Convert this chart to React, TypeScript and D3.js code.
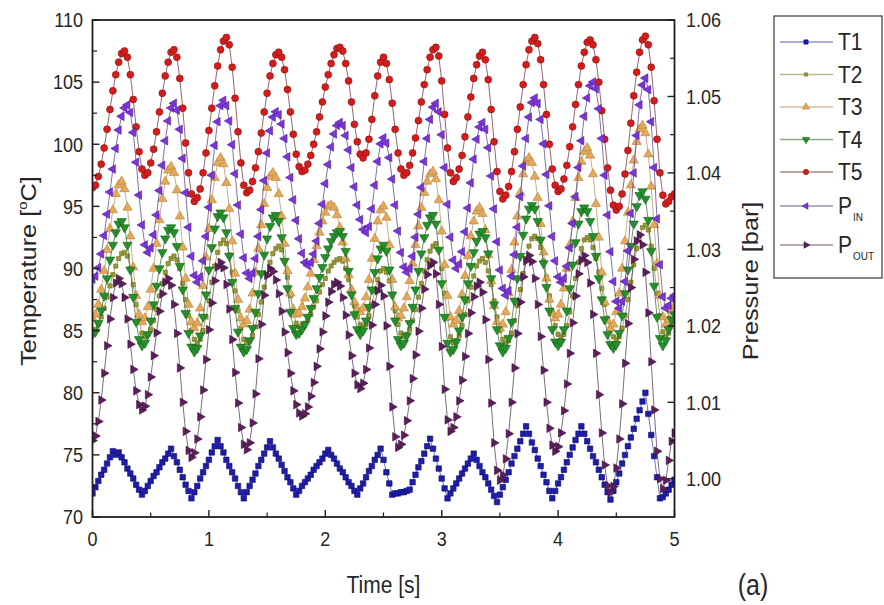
import React from "react";
import * as d3 from "d3";

// Sampling interval of the logged signals [s]
const TIME_STEP = 0.025;

const X_TICKS = [0, 1, 2, 3, 4, 5];
const T_TICKS = [70, 75, 80, 85, 90, 95, 100, 105, 110];
const P_TICKS = [1.0, 1.01, 1.02, 1.03, 1.04, 1.05, 1.06];

// Temperatures [°C]
const T1 = [
  71.9, 72.4, 72.9, 73.4, 73.8, 74.3, 74.8, 75.3, 75.0, 75.2, 74.8,
  74.4, 73.9, 73.5, 73.1, 72.6, 72.2, 71.8, 72.1, 72.5, 72.9,
  73.3, 73.6, 74.0, 74.4, 74.7, 75.1, 75.5, 74.9, 74.4, 73.8,
  73.2, 72.6, 72.1, 71.5, 72.0, 72.5, 73.1, 73.6, 74.1, 74.6,
  75.2, 75.7, 76.2, 75.7, 75.2, 74.6, 74.1, 73.6, 73.1, 72.5,
  72.0, 71.5, 72.0, 72.5, 73.0, 73.5, 74.1, 74.6, 75.1, 75.6,
  76.1, 75.6, 75.1, 74.7, 74.2, 73.7, 73.2, 72.8, 72.3, 71.8,
  72.1, 72.5, 72.8, 73.1, 73.4, 73.8, 74.1, 74.4, 74.7, 75.1,
  75.4, 75.0, 74.7, 74.3, 73.9, 73.6, 73.2, 72.8, 72.5, 72.1,
  71.8, 72.3, 72.7, 73.2, 73.7, 74.1, 74.6, 75.0, 75.5, 74.6,
  73.6, 72.7, 71.8, 71.9, 71.9, 72.0, 72.0, 72.1, 72.2, 72.8,
  73.4, 74.0, 74.5, 75.1, 75.7, 76.3, 75.5, 74.7, 73.9, 73.1,
  72.3, 71.5, 71.9, 72.3, 72.7, 73.1, 73.5, 73.9, 74.3, 74.7,
  75.1, 74.6, 74.1, 73.6, 73.2, 72.7, 72.2, 71.7, 71.2, 71.8,
  72.4, 73.0, 73.6, 74.3, 74.9, 75.5, 76.1, 76.7, 77.3, 76.7,
  76.0, 75.4, 74.7, 74.1, 73.4, 72.8, 72.1, 71.5, 72.1, 72.7,
  73.2, 73.8, 74.4, 75.0, 75.6, 76.2, 76.7, 77.3, 76.7, 76.1,
  75.5, 74.9, 74.4, 73.8, 73.2, 72.6, 72.0, 71.4, 72.1, 72.8,
  73.5, 74.3, 75.0, 75.7, 76.4, 77.1, 77.9, 78.6, 79.3, 80.0,
  78.3, 76.6, 74.9, 73.2, 71.5, 71.6, 71.9, 72.2, 72.6, 73.0,
];

const T2 = [
  85.0, 85.1, 85.5, 86.1, 86.8, 87.7, 88.6, 89.5, 90.2, 90.8, 91.2,
  91.3, 91.0, 90.0, 88.7, 87.1, 85.8, 84.8, 84.5, 84.7, 85.1,
  85.8, 86.7, 87.8, 88.8, 89.7, 90.4, 90.8, 91.0, 90.7, 90.0,
  88.8, 87.5, 86.2, 85.0, 84.3, 84.0, 84.3, 85.0, 86.1, 87.4,
  88.9, 90.2, 91.3, 92.0, 92.3, 92.0, 91.1, 89.7, 88.2, 86.6,
  85.2, 84.3, 84.0, 84.2, 84.6, 85.3, 86.3, 87.3, 88.5, 89.5,
  90.5, 91.2, 91.6, 91.8, 91.5, 90.6, 89.3, 87.8, 86.5, 85.6,
  85.3, 85.4, 85.6, 85.9, 86.3, 86.9, 87.4, 88.1, 88.7, 89.2,
  89.8, 90.2, 90.5, 90.7, 90.8, 90.6, 90.0, 89.1, 88.1, 87.0,
  86.1, 85.5, 85.3, 85.5, 86.2, 87.1, 88.2, 89.1, 89.8, 90.0,
  89.7, 89.0, 87.9, 86.6, 85.5, 84.8, 84.5, 84.7, 85.1, 85.8,
  86.7, 87.7, 88.8, 89.8, 90.7, 91.4, 91.8, 92.0, 91.5, 90.0,
  88.0, 86.0, 84.5, 84.0, 84.2, 84.6, 85.4, 86.3, 87.4, 88.5,
  89.4, 90.2, 90.6, 90.8, 90.5, 89.8, 88.7, 87.4, 86.1, 85.0,
  84.3, 84.0, 84.2, 84.8, 85.8, 87.0, 88.3, 89.6, 90.8, 91.8,
  92.4, 92.6, 92.4, 91.7, 90.6, 89.3, 87.8, 86.5, 85.4, 84.7,
  84.5, 84.7, 85.4, 86.5, 87.8, 89.2, 90.5, 91.6, 92.3, 92.5,
  92.3, 91.7, 90.8, 89.7, 88.4, 87.1, 86.0, 85.1, 84.5, 84.3,
  84.5, 85.2, 86.2, 87.5, 88.9, 90.3, 91.6, 92.6, 93.3, 93.5,
  93.1, 91.8, 90.0, 88.0, 86.2, 84.9, 84.5, 84.8, 85.5, 85.8,
];

const T3 = [
  86.0, 86.3, 87.1, 88.3, 89.8, 91.5, 93.2, 94.7, 96.0, 96.7, 97.0,
  96.4, 94.9, 92.6, 90.1, 87.8, 86.3, 85.7, 86.0, 86.9, 88.3,
  90.0, 92.0, 93.9, 95.6, 97.0, 97.9, 98.2, 97.7, 96.3, 94.2,
  91.7, 89.2, 87.1, 85.7, 85.2, 85.6, 86.8, 88.6, 90.9, 93.2,
  95.5, 97.3, 98.5, 98.9, 98.4, 96.9, 94.8, 92.2, 89.6, 87.5,
  86.0, 85.5, 85.8, 86.7, 88.0, 89.7, 91.6, 93.5, 95.2, 96.5,
  97.4, 97.7, 97.3, 96.0, 94.2, 92.0, 89.8, 88.0, 86.7, 86.3,
  86.4, 86.9, 87.6, 88.5, 89.6, 90.7, 91.8, 92.9, 93.8, 94.5,
  95.0, 95.1, 94.9, 94.3, 93.3, 92.1, 90.8, 89.5, 88.3, 87.3,
  86.7, 86.5, 86.8, 87.7, 89.1, 90.8, 92.4, 93.8, 94.7, 95.0,
  94.1, 91.9, 89.1, 86.9, 86.0, 86.2, 86.8, 87.7, 89.0, 90.4,
  91.9, 93.4, 94.9, 96.1, 97.0, 97.6, 97.8, 97.2, 95.5, 93.0,
  90.3, 87.8, 86.1, 85.5, 85.8, 86.6, 87.9, 89.4, 91.0, 92.6,
  93.8, 94.6, 94.9, 94.4, 93.1, 91.1, 89.0, 87.0, 85.7, 85.2,
  85.5, 86.5, 88.0, 89.9, 92.1, 94.2, 96.1, 97.6, 98.6, 98.9,
  98.5, 97.4, 95.7, 93.6, 91.3, 89.2, 87.5, 86.4, 86.0, 86.3,
  87.1, 88.4, 90.0, 91.9, 93.8, 95.7, 97.3, 98.6, 99.4, 99.7,
  99.1, 97.6, 95.2, 92.5, 89.7, 87.3, 85.8, 85.2, 85.5, 86.5,
  88.0, 90.0, 92.2, 94.5, 96.7, 98.7, 100.2, 101.2, 101.5, 100.9,
  99.2, 96.6, 93.5, 90.4, 87.8, 86.1, 85.5, 85.9, 86.6, 87.0,
];

const T4 = [
  84.7, 84.9, 85.6, 86.6, 87.8, 89.2, 90.7, 91.9, 92.9, 93.6, 93.8,
  93.3, 91.9, 89.9, 87.7, 85.7, 84.3, 83.8, 84.0, 84.7, 85.8,
  87.1, 88.6, 90.0, 91.3, 92.4, 93.1, 93.3, 92.9, 91.8, 90.2,
  88.3, 86.4, 84.8, 83.7, 83.3, 83.6, 84.6, 86.1, 87.9, 89.9,
  91.7, 93.2, 94.2, 94.5, 94.1, 92.9, 91.0, 88.9, 86.8, 84.9,
  83.7, 83.3, 83.5, 84.2, 85.2, 86.5, 88.0, 89.6, 91.1, 92.4,
  93.4, 94.1, 94.3, 93.8, 92.5, 90.6, 88.4, 86.5, 85.2, 84.7,
  84.8, 85.1, 85.5, 86.1, 86.8, 87.6, 88.4, 89.3, 90.1, 90.9,
  91.6, 92.2, 92.6, 92.9, 93.0, 92.6, 91.4, 89.8, 87.9, 86.3,
  85.1, 84.7, 85.0, 85.8, 86.9, 88.3, 89.7, 90.8, 91.6, 91.9,
  91.4, 89.9, 87.9, 85.8, 84.3, 83.8, 84.0, 84.6, 85.6, 86.9,
  88.3, 89.8, 91.2, 92.5, 93.5, 94.1, 94.3, 93.6, 91.5, 88.8,
  86.1, 84.0, 83.3, 83.5, 84.1, 85.0, 86.1, 87.5, 88.8, 90.2,
  91.3, 92.2, 92.8, 93.0, 92.5, 91.2, 89.2, 87.1, 85.1, 83.8,
  83.3, 83.6, 84.4, 85.7, 87.4, 89.2, 91.0, 92.7, 94.0, 94.8,
  95.1, 94.8, 93.8, 92.3, 90.4, 88.5, 86.6, 85.1, 84.1, 83.8,
  84.1, 85.1, 86.6, 88.4, 90.3, 92.1, 93.6, 94.6, 94.9, 94.6,
  93.8, 92.6, 91.0, 89.2, 87.5, 85.9, 84.7, 83.9, 83.6, 83.9,
  84.8, 86.2, 88.0, 89.9, 91.8, 93.6, 95.0, 95.9, 96.2, 95.6,
  93.9, 91.4, 88.6, 86.1, 84.4, 83.8, 84.2, 85.1, 85.9, 86.3,
];

const T5 = [
  96.5, 96.7, 97.4, 98.4, 99.7, 101.2, 102.8, 104.3, 105.6, 106.6, 107.3,
  107.5, 107.0, 105.6, 103.6, 101.4, 99.4, 98.0, 97.5, 97.7, 98.5,
  99.6, 101.0, 102.6, 104.1, 105.5, 106.6, 107.4, 107.6, 107.0, 105.3,
  102.9, 100.1, 97.7, 96.0, 95.4, 95.7, 96.4, 97.7, 99.3, 101.1,
  102.9, 104.7, 106.3, 107.6, 108.3, 108.6, 108.0, 106.2, 103.7, 101.0,
  98.5, 96.7, 96.1, 96.3, 97.0, 98.1, 99.4, 100.9, 102.6, 104.1,
  105.5, 106.5, 107.2, 107.4, 107.0, 106.0, 104.4, 102.6, 100.8, 99.2,
  98.2, 97.8, 97.9, 98.4, 99.1, 100.0, 101.0, 102.2, 103.4, 104.6,
  105.6, 106.5, 107.2, 107.7, 107.8, 107.5, 106.5, 105.1, 103.4, 101.6,
  100.2, 99.2, 98.9, 99.3, 100.4, 102.0, 103.9, 105.5, 106.6, 107.0,
  106.5, 105.2, 103.3, 101.2, 99.3, 98.0, 97.5, 97.7, 98.3, 99.3,
  100.5, 101.9, 103.4, 104.8, 106.0, 107.0, 107.6, 107.8, 107.1, 105.1,
  102.4, 99.7, 97.7, 97.0, 97.3, 98.0, 99.1, 100.6, 102.2, 103.8,
  105.3, 106.4, 107.1, 107.4, 106.8, 105.2, 102.8, 100.2, 97.8, 96.2,
  95.6, 95.9, 96.6, 97.8, 99.4, 101.2, 103.0, 104.8, 106.4, 107.6,
  108.3, 108.6, 108.1, 106.8, 104.8, 102.4, 100.0, 98.0, 96.7, 96.2,
  96.4, 97.2, 98.3, 99.8, 101.4, 103.2, 104.8, 106.3, 107.4, 108.2,
  108.4, 108.0, 106.8, 105.0, 102.7, 100.4, 98.1, 96.3, 95.1, 94.7,
  95.0, 96.0, 97.6, 99.5, 101.7, 103.9, 105.8, 107.4, 108.4, 108.7,
  108.0, 106.2, 103.5, 100.4, 97.7, 95.9, 95.2, 95.4, 95.8, 96.0,
];

// Pressures [bar]
const P_IN = [
  1.0261, 1.0265, 1.0276, 1.0294, 1.0318, 1.0346, 1.0375, 1.0405, 1.0432, 1.0456, 1.0474,
  1.0485, 1.0489, 1.0479, 1.0453, 1.0414, 1.0371, 1.0332, 1.0306, 1.0296, 1.0302,
  1.0319, 1.0345, 1.0377, 1.041, 1.0442, 1.0468, 1.0485, 1.0491, 1.0482, 1.0457,
  1.0419, 1.0374, 1.0329, 1.0291, 1.0266, 1.0257, 1.0264, 1.0285, 1.0317, 1.0355,
  1.0397, 1.0436, 1.0467, 1.0488, 1.0495, 1.0488, 1.0468, 1.0437, 1.0399, 1.0358,
  1.032, 1.0289, 1.0269, 1.0262, 1.0269, 1.0288, 1.0317, 1.0352, 1.039, 1.0426,
  1.0455, 1.0473, 1.048, 1.0476, 1.0464, 1.0445, 1.0421, 1.0394, 1.0365, 1.0338,
  1.0314, 1.0295, 1.0283, 1.0279, 1.0283, 1.0294, 1.0311, 1.0334, 1.0359, 1.0386,
  1.0411, 1.0434, 1.0451, 1.0462, 1.0466, 1.0462, 1.0449, 1.043, 1.0407, 1.0382,
  1.0358, 1.0339, 1.0326, 1.0322, 1.033, 1.0353, 1.0384, 1.0415, 1.0438, 1.0446,
  1.0439, 1.042, 1.0392, 1.0358, 1.0324, 1.0296, 1.0277, 1.027, 1.0275, 1.0291,
  1.0316, 1.0346, 1.0381, 1.0415, 1.0445, 1.047, 1.0486, 1.0491, 1.048, 1.045,
  1.0407, 1.0359, 1.0316, 1.0286, 1.0275, 1.0281, 1.0297, 1.0323, 1.0354, 1.0387,
  1.0418, 1.0444, 1.046, 1.0466, 1.0457, 1.0433, 1.0396, 1.0353, 1.031, 1.0273,
  1.0249, 1.024, 1.0246, 1.0265, 1.0293, 1.0329, 1.0369, 1.0409, 1.0445, 1.0473,
  1.0492, 1.0498, 1.0491, 1.047, 1.0438, 1.0398, 1.0357, 1.0317, 1.0285, 1.0264,
  1.0257, 1.0262, 1.0278, 1.0302, 1.0334, 1.0369, 1.0407, 1.0442, 1.0474, 1.0498,
  1.0514, 1.0519, 1.051, 1.0484, 1.0445, 1.0397, 1.0345, 1.0297, 1.0258, 1.0232,
  1.0223, 1.0232, 1.0258, 1.0298, 1.0347, 1.04, 1.0449, 1.0489, 1.0515, 1.0524,
  1.0509, 1.0467, 1.0407, 1.034, 1.028, 1.0238, 1.0223, 1.0227, 1.0236, 1.024,
];

const P_OUT = [
  1.005, 1.0056, 1.0075, 1.0103, 1.0138, 1.0174, 1.0209, 1.0237, 1.0256, 1.0262, 1.0255,
  1.0237, 1.0209, 1.0176, 1.0143, 1.0115, 1.0097, 1.009, 1.0095, 1.011, 1.0133,
  1.0161, 1.0191, 1.0219, 1.0242, 1.0257, 1.0262, 1.0253, 1.0228, 1.019, 1.0145,
  1.01, 1.0062, 1.0037, 1.0028, 1.0034, 1.0052, 1.0081, 1.0116, 1.0156, 1.0195,
  1.023, 1.0259, 1.0277, 1.0283, 1.0276, 1.0254, 1.0222, 1.0182, 1.0139, 1.0099,
  1.0067, 1.0045, 1.0038, 1.0047, 1.0073, 1.0111, 1.0157, 1.0202, 1.024, 1.0266,
  1.0275, 1.0271, 1.026, 1.0242, 1.0219, 1.0192, 1.0165, 1.0138, 1.0115, 1.0097,
  1.0086, 1.0082, 1.0085, 1.0094, 1.0108, 1.0126, 1.0147, 1.017, 1.0192, 1.0213,
  1.0231, 1.0245, 1.0254, 1.0257, 1.0252, 1.0237, 1.0214, 1.0188, 1.0161, 1.0138,
  1.0123, 1.0118, 1.0125, 1.0143, 1.0171, 1.0201, 1.0228, 1.0246, 1.0253, 1.0239,
  1.02, 1.0147, 1.0094, 1.0055, 1.0041, 1.0045, 1.0057, 1.0076, 1.0102, 1.0131,
  1.0162, 1.0193, 1.0223, 1.0248, 1.0267, 1.0279, 1.0283, 1.0268, 1.0228, 1.0173,
  1.0117, 1.0077, 1.0062, 1.0067, 1.0081, 1.0102, 1.0129, 1.016, 1.019, 1.0217,
  1.0238, 1.0252, 1.0257, 1.0244, 1.0208, 1.0156, 1.0099, 1.0047, 1.0011, 0.9998,
  1.0005, 1.0026, 1.0059, 1.01, 1.0145, 1.019, 1.0231, 1.0264, 1.0285, 1.0292,
  1.0284, 1.0262, 1.0228, 1.0186, 1.0142, 1.01, 1.0066, 1.0044, 1.0036, 1.0042,
  1.006, 1.0089, 1.0124, 1.0164, 1.0204, 1.0239, 1.0268, 1.0286, 1.0292, 1.0283,
  1.0256, 1.0215, 1.0164, 1.011, 1.006, 1.0018, 0.9991, 0.9982, 0.999, 1.0014,
  1.0052, 1.0098, 1.0151, 1.0203, 1.025, 1.0287, 1.0311, 1.0319, 1.0306, 1.027,
  1.0217, 1.0153, 1.009, 1.0036, 1.0, 0.9987, 0.9998, 1.0024, 1.0049, 1.006,
];

type Series = {
  key: string;
  label: string;
  sub?: string;
  values: number[];
  axis: "T" | "P";
  fill: string;
  stroke: string;
  line: string;
  symbol: d3.SymbolType;
  size: number;
  rotate: number;
};

const SERIES: Series[] = [
  { key: "T1", label: "T1", values: T1, axis: "T", fill: "#1e1eaa", stroke: "#0c0c70", line: "#4a4a9c", symbol: d3.symbolSquare, size: 30, rotate: 0 },
  { key: "T2", label: "T2", values: T2, axis: "T", fill: "#9a9a34", stroke: "#6c6c1c", line: "#8c8c4c", symbol: d3.symbolSquare, size: 18, rotate: 0 },
  { key: "T3", label: "T3", values: T3, axis: "T", fill: "#e3a95a", stroke: "#b88236", line: "#b89464", symbol: d3.symbolTriangle, size: 38, rotate: 0 },
  { key: "T4", label: "T4", values: T4, axis: "T", fill: "#23902a", stroke: "#146018", line: "#3c6e3c", symbol: d3.symbolTriangle, size: 38, rotate: 180 },
  { key: "T5", label: "T5", values: T5, axis: "T", fill: "#d41c1c", stroke: "#8a1212", line: "#7a3434", symbol: d3.symbolCircle, size: 38, rotate: 0 },
  { key: "PIN", label: "P", sub: "IN", values: P_IN, axis: "P", fill: "#7c34d8", stroke: "#4e1c96", line: "#5c4488", symbol: d3.symbolTriangle, size: 32, rotate: -90 },
  { key: "POUT", label: "P", sub: "OUT", values: P_OUT, axis: "P", fill: "#5c1f5c", stroke: "#3a0f3a", line: "#5a3a58", symbol: d3.symbolTriangle, size: 32, rotate: 90 },
];

const W = 884;
const H = 605;
const X0 = 92.5;
const X1 = 674.5;
const Y0 = 20;
const Y1 = 517;
const FONT = "'Liberation Sans', Arial, Helvetica, sans-serif";
const INK = "#262626";
const STRETCH = 1.15;

const x = d3.scaleLinear().domain([0, 5]).range([X0, X1]);
const yT = d3.scaleLinear().domain([70, 110]).range([Y1, Y0]);
const yP = d3.scaleLinear().domain([0.995, 1.06]).range([Y1, Y0]);

function Txt(props: {
  x: number;
  y: number;
  size: number;
  anchor?: "start" | "middle" | "end";
  children: React.ReactNode;
}) {
  const { x: tx, y: ty, size, anchor = "start", children } = props;
  return (
    <text
      transform={`translate(${tx},${ty}) scale(1,${STRETCH})`}
      textAnchor={anchor}
      dy="0.35em"
      fontSize={size}
      fontFamily={FONT}
      fill={INK}
    >
      {children}
    </text>
  );
}

export default function App() {
  const legendRows = [42, 74.5, 107, 139.5, 172, 206, 245];

  const xMinor = d3.range(0.5, 5, 1);
  const tMinor = d3.range(72.5, 110, 5);
  const pMinor = d3.range(0, 6).map((k) => 1.005 + k * 0.01);

  return (
    <svg
      width={W}
      height={H}
      viewBox={`0 0 ${W} ${H}`}
      style={{ position: "absolute", left: 0, top: 0, background: "#ffffff" }}
    >
      <rect x={0} y={0} width={W} height={H} fill="#ffffff" />

      <defs>
        <clipPath id="plot-area">
          <rect x={X0} y={Y0 - 4} width={X1 - X0} height={Y1 - Y0 + 8} />
        </clipPath>
      </defs>

      {/* series: thin connecting lines, then markers */}
      <g clipPath="url(#plot-area)">
        {SERIES.map((s) => {
          const yScale = s.axis === "T" ? yT : yP;
          const line = d3
            .line<number>()
            .x((_, i) => x(i * TIME_STEP))
            .y((v) => yScale(v));
          const sym = d3.symbol().type(s.symbol).size(s.size)() || "";
          return (
            <g key={s.key}>
              <path d={line(s.values) || ""} fill="none" stroke={s.line} strokeWidth={0.9} strokeOpacity={0.85} />
              {s.values.map((v, i) => (
                <path
                  key={i}
                  d={sym}
                  transform={`translate(${x(i * TIME_STEP)},${yScale(v)}) rotate(${s.rotate})`}
                  fill={s.fill}
                  stroke={s.stroke}
                  strokeWidth={0.6}
                />
              ))}
            </g>
          );
        })}
      </g>

      {/* frame */}
      <rect x={X0} y={Y0} width={X1 - X0} height={Y1 - Y0} fill="none" stroke="#1e1e1e" strokeWidth={1.8} />

      {/* bottom axis */}
      {X_TICKS.map((t) => (
        <line key={`xt${t}`} x1={x(t)} x2={x(t)} y1={Y1} y2={Y1 - 7} stroke="#1e1e1e" strokeWidth={1.4} />
      ))}
      {xMinor.map((t) => (
        <line key={`xm${t}`} x1={x(t)} x2={x(t)} y1={Y1} y2={Y1 - 4.5} stroke="#1e1e1e" strokeWidth={1.2} />
      ))}
      {X_TICKS.map((t) => (
        <Txt key={`xl${t}`} x={x(t)} y={539} size={18} anchor="middle">
          {d3.format("d")(t)}
        </Txt>
      ))}

      {/* left axis */}
      {T_TICKS.map((t) => (
        <line key={`tt${t}`} x1={X0} x2={X0 + 7} y1={yT(t)} y2={yT(t)} stroke="#1e1e1e" strokeWidth={1.4} />
      ))}
      {tMinor.map((t) => (
        <line key={`tm${t}`} x1={X0} x2={X0 + 4.5} y1={yT(t)} y2={yT(t)} stroke="#1e1e1e" strokeWidth={1.2} />
      ))}
      {T_TICKS.map((t) => (
        <Txt key={`tl${t}`} x={83} y={yT(t)} size={18} anchor="end">
          {d3.format("d")(t)}
        </Txt>
      ))}

      {/* right axis */}
      {P_TICKS.map((p) => (
        <line key={`pt${p}`} x1={X1} x2={X1 - 7} y1={yP(p)} y2={yP(p)} stroke="#1e1e1e" strokeWidth={1.4} />
      ))}
      {pMinor.map((p) => (
        <line key={`pm${p}`} x1={X1} x2={X1 - 4.5} y1={yP(p)} y2={yP(p)} stroke="#1e1e1e" strokeWidth={1.2} />
      ))}
      {P_TICKS.map((p) => (
        <Txt key={`pl${p}`} x={686} y={yP(p)} size={18} anchor="start">
          {d3.format(".2f")(p)}
        </Txt>
      ))}

      {/* axis titles */}
      <text
        transform={`translate(36,271) rotate(-90) scale(${STRETCH},1)`}
        textAnchor="middle"
        fontSize={22}
        fontFamily={FONT}
        fill={INK}
      >
        Temperature [
        <tspan fontSize={13} dy={-9}>o</tspan>
        <tspan dy={9}>C]</tspan>
      </text>
      <text
        transform={`translate(758,281) rotate(-90) scale(${STRETCH},1)`}
        textAnchor="middle"
        fontSize={22}
        fontFamily={FONT}
        fill={INK}
      >
        Pressure [bar]
      </text>
      <Txt x={383.5} y={585} size={21} anchor="middle">
        Time [s]
      </Txt>
      <Txt x={753} y={585} size={25} anchor="middle">
        (a)
      </Txt>

      {/* legend */}
      <rect x={774} y={16} width={108} height={262} fill="#ffffff" stroke="#3a3a3a" strokeWidth={1.2} />
      {SERIES.map((s, i) => {
        const ly = legendRows[i];
        const sym = d3.symbol().type(s.symbol).size(s.size * 0.6)() || "";
        return (
          <g key={`lg${s.key}`}>
            <line x1={780} x2={833} y1={ly} y2={ly} stroke={s.line} strokeOpacity={0.6} strokeWidth={1.4} />
            <path
              d={sym}
              transform={`translate(806,${ly}) rotate(${s.rotate})`}
              fill={s.fill}
              stroke={s.stroke}
              strokeWidth={0.6}
            />
            <Txt x={838} y={ly} size={21}>
              {s.label}
            </Txt>
            {s.sub ? (
              <Txt x={853} y={ly + 11} size={10}>
                {s.sub}
              </Txt>
            ) : null}
          </g>
        );
      })}
    </svg>
  );
}
